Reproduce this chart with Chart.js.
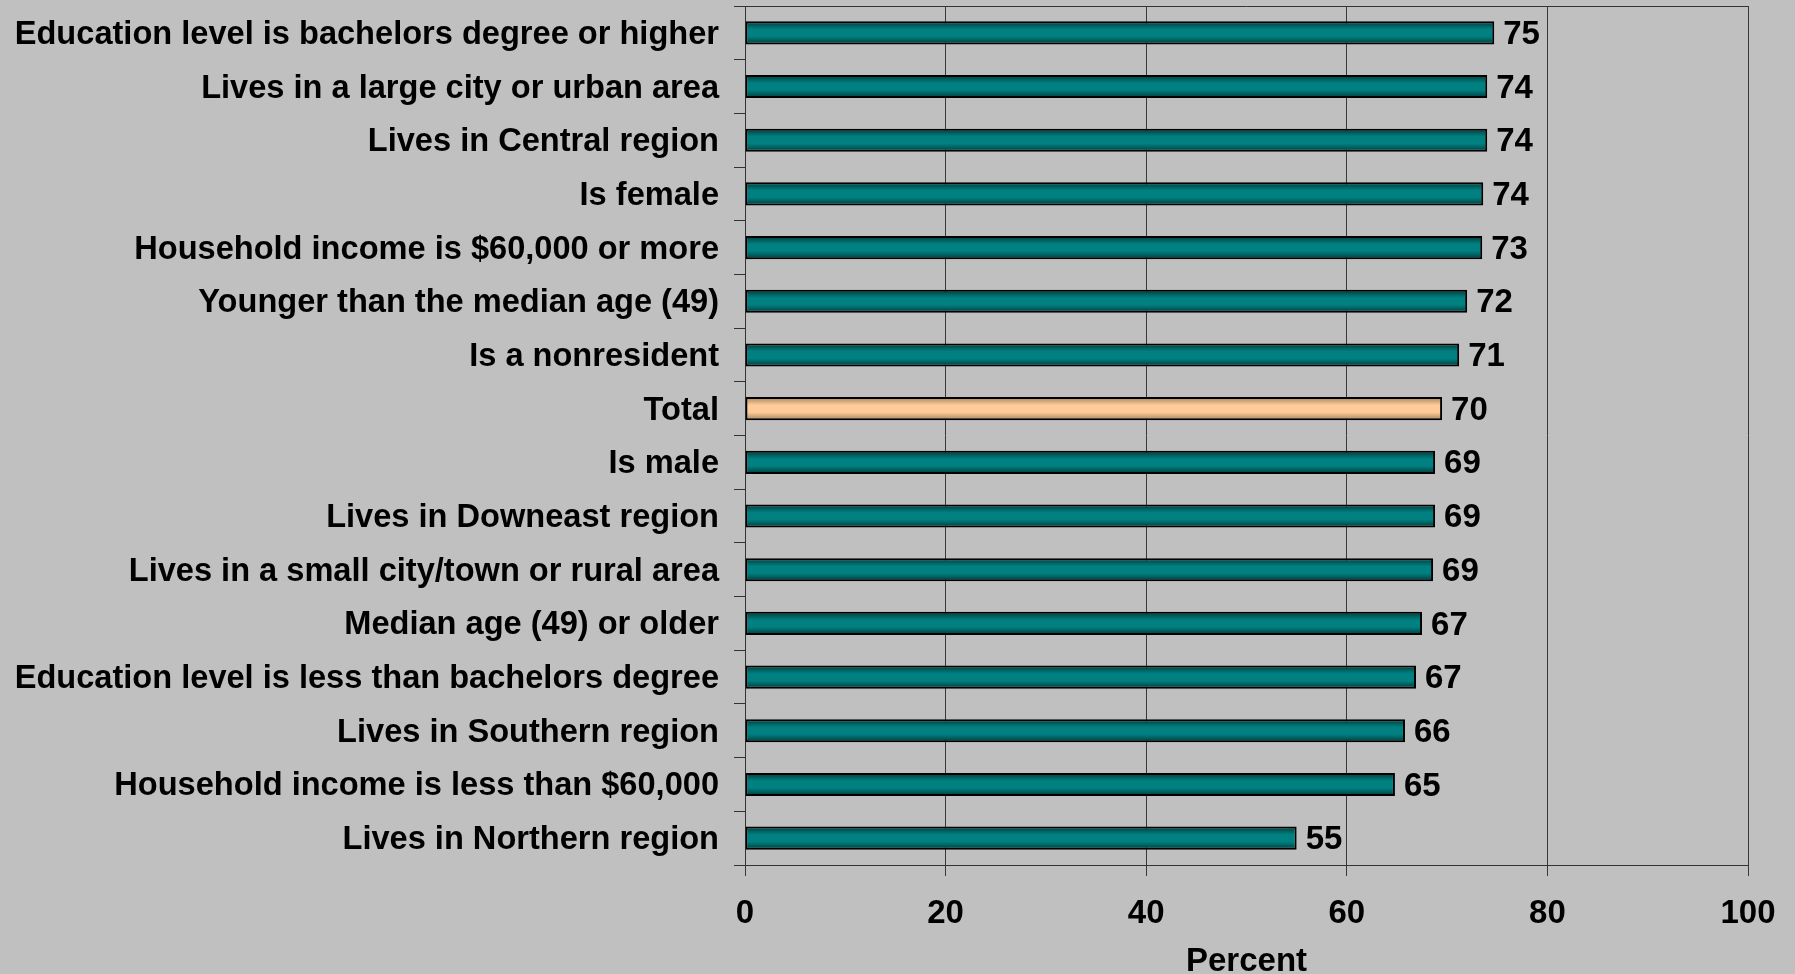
<!DOCTYPE html>
<html><head><meta charset="utf-8">
<script src="https://cdn.jsdelivr.net/npm/chart.js@4.4.0/dist/chart.umd.min.js"></script>
<style>html,body{margin:0;padding:0;background:#c0c0c0;} canvas{display:block;}</style>
</head><body>
<canvas id="c" width="1795" height="974"></canvas>
<script>
const categories = [
  'Education level is bachelors degree or higher',
  'Lives in a large city or urban area',
  'Lives in Central region',
  'Is female',
  'Household income is $60,000 or more',
  'Younger than the median age (49)',
  'Is a nonresident',
  'Total',
  'Is male',
  'Lives in Downeast region',
  'Lives in a small city/town or rural area',
  'Median age (49) or older',
  'Education level is less than bachelors degree',
  'Lives in Southern region',
  'Household income is less than $60,000',
  'Lives in Northern region'
];
const values = [74.7, 74.0, 74.0, 73.6, 73.5, 72.0, 71.2, 69.5, 68.8, 68.8, 68.6, 67.5, 66.9, 65.8, 64.8, 55.0];
const valueLabels = ['75','74','74','74','73','72','71','70','69','69','69','67','67','66','65','55'];
const xTicks = [0, 20, 40, 60, 80, 100];
const xAxisTitle = 'Percent';
const highlightCategory = 'Total';

const FONT = '"Liberation Sans", Arial, sans-serif';
const FSIZE = 33;
const YSIZE = 32.6;
const BAR_FRACTION = 0.43;

function barFill(ctx) {
  const isHi = categories[ctx.dataIndex] === highlightCategory;
  const edge = isHi ? '#a3825f' : '#003a3a';
  const mid = isHi ? '#ffcc99' : '#008080';
  const chart = ctx.chart;
  if (ctx.type !== 'data' || !chart.chartArea || !chart.scales.y) return mid;
  const ys = chart.scales.y;
  const yc = ys.getPixelForValue(ctx.dataIndex);
  const step = Math.abs(ys.getPixelForValue(1) - ys.getPixelForValue(0));
  const h = step * BAR_FRACTION / 2;
  const g = chart.ctx.createLinearGradient(0, yc - h, 0, yc + h);
  g.addColorStop(0, edge);
  g.addColorStop(0.35, mid);
  g.addColorStop(0.65, mid);
  g.addColorStop(1, edge);
  return g;
}

const bgPlugin = {
  id: 'bg',
  beforeDraw(chart) {
    const c = chart.ctx;
    c.save(); c.fillStyle = '#c0c0c0'; c.fillRect(0, 0, chart.width, chart.height); c.restore();
  }
};
const framePlugin = {
  id: 'frame',
  beforeDatasetsDraw(chart) {
    const {left, right, top} = chart.chartArea;
    const c = chart.ctx;
    c.save(); c.strokeStyle = '#333333'; c.lineWidth = 1;
    c.beginPath();
    c.moveTo(left, top + 0.5); c.lineTo(right, top + 0.5);
    c.stroke(); c.restore();
  }
};
const labelPlugin = {
  id: 'valLabels',
  afterDatasetsDraw(chart) {
    const c = chart.ctx;
    const meta = chart.getDatasetMeta(0);
    c.save();
    c.font = 'bold ' + FSIZE + 'px ' + FONT;
    c.fillStyle = '#000';
    c.textAlign = 'left';
    c.textBaseline = 'middle';
    meta.data.forEach((bar, i) => {
      c.fillText(valueLabels[i], bar.x + 9, bar.y + 2);
    });
    c.restore();
  }
};

new Chart(document.getElementById('c'), {
  type: 'bar',
  data: {
    labels: categories,
    datasets: [{
      data: values,
      backgroundColor: barFill,
      borderColor: '#000000',
      borderWidth: 2,
      borderSkipped: false,
      barPercentage: 1,
      categoryPercentage: BAR_FRACTION
    }]
  },
  plugins: [bgPlugin, framePlugin, labelPlugin],
  options: {
    indexAxis: 'y',
    responsive: false,
    animation: false,
    events: [],
    layout: { padding: { top: 6, right: 47, left: 0, bottom: 0 } },
    plugins: { legend: { display: false }, tooltip: { enabled: false } },
    scales: {
      x: {
        min: 0, max: 100,
        afterBuildTicks(scale) { scale.ticks = xTicks.map(v => ({ value: v })); },
        afterFit(scale) { scale.height = 109; scale.paddingLeft = 0; scale.paddingRight = 0; },
        grid: { color: '#383838', lineWidth: 1, tickLength: 11, drawTicks: true },
        border: { color: '#333333', width: 1 },
        ticks: { color: '#000', font: { family: FONT, size: FSIZE, weight: 'bold' }, padding: 18, maxRotation: 0 },
        title: { display: true, text: xAxisTitle, color: '#000', font: { family: FONT, size: FSIZE, weight: 'bold', lineHeight: 1 }, padding: { top: 0, bottom: -4 } }
      },
      y: {
        afterFit(scale) { scale.width = 745; scale.paddingTop = 0; scale.paddingBottom = 0; },
        grid: { drawOnChartArea: false, drawTicks: true, tickLength: 11, color: '#333333', offset: true },
        border: { color: '#333333', width: 1 },
        ticks: { color: '#000', font: { family: FONT, size: YSIZE, weight: 'bold' }, padding: 15, autoSkip: false, labelOffset: 2 }
      }
    }
  }
});
</script>
</body></html>
